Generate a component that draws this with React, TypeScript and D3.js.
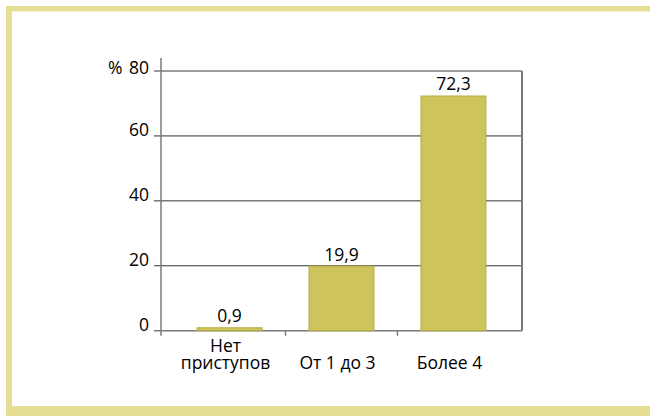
import React from "react";
import * as d3 from "d3";

// Доля пациентов по числу приступов, %
const categories: string[][] = [["Нет", "приступов"], ["От 1 до 3"], ["Более 4"]];
const values: number[] = [0.9, 19.9, 72.3];
const valueLabels: string[] = ["0,9", "19,9", "72,3"];
const yTicks: number[] = [0, 20, 40, 60, 80];

const W = 650;
const H = 416;
const FONT = "'Open Sans', 'Noto Sans', sans-serif";
const FS = 17.5;

export default function App() {
  const left = 161;
  const right = 522;
  const bottom = 330.7;
  const top = 71;

  const keys = categories.map((c) => c.join(" "));
  const x = d3
    .scaleBand<string>()
    .domain(keys)
    .range([left, right])
    .paddingInner(0.42)
    .paddingOuter(0.3225);
  const y = d3.scaleLinear().domain([0, 80]).range([bottom, top]);

  const bw = x.bandwidth();
  const step = x.step();
  const dividers = keys.slice(0, -1).map((k) => (x(k) as number) + bw + (step - bw) / 2);

  const frame = "#e4df95";
  const barFill = "#cdc55c";
  const barStroke = "#b5ac3e";

  return (
    <svg
      width={W}
      height={H}
      style={{ position: "absolute", left: 0, top: 0, background: "#fff" }}
      fontFamily={FONT}
    >
      {/* рамка */}
      <rect x={6} y={6} width={W - 6} height={5.5} fill={frame} />
      <rect x={6} y={6} width={6} height={H - 6} fill={frame} />
      <rect x={6} y={406} width={W - 6} height={10} fill={frame} />

      {/* сетка */}
      {yTicks
        .filter((t) => t > 0 && t < 80)
        .map((t) => (
          <line key={t} x1={left - 7} x2={right} y1={y(t)} y2={y(t)} stroke="#333" strokeWidth={1} />
        ))}
      <line x1={left - 7} x2={right} y1={y(80)} y2={y(80)} stroke="#7a7a7a" strokeWidth={1.5} />
      <line x1={left - 7} x2={right} y1={y(0)} y2={y(0)} stroke="#7a7a7a" strokeWidth={1.5} />
      <line x1={right} x2={right} y1={y(80)} y2={y(0)} stroke="#7a7a7a" strokeWidth={2} />
      <line x1={left} x2={left} y1={58} y2={y(0) + 5} stroke="#7a7a7a" strokeWidth={1.5} />
      {dividers.map((d, i) => (
        <line key={i} x1={d} x2={d} y1={y(0)} y2={y(0) + 5} stroke="#7a7a7a" strokeWidth={1.5} />
      ))}

      {/* подписи оси Y */}
      {yTicks.map((t) => (
        <text
          key={t}
          x={149}
          y={y(t) + (t === 80 ? 3 : 0)}
          textAnchor="end"
          fontSize={FS}
          fill="#000"
        >
          {t}
        </text>
      ))}
      <text x={108} y={y(80) + 3} fontSize={FS} fill="#000">
        %
      </text>

      {/* столбцы */}
      {keys.map((k, i) => (
        <g key={k}>
          <rect
            x={x(k)}
            y={y(values[i])}
            width={bw}
            height={y(0) - y(values[i])}
            fill={barFill}
            stroke={barStroke}
            strokeWidth={1}
          />
          <text
            x={(x(k) as number) + bw / 2}
            y={y(values[i]) - 5.5}
            textAnchor="middle"
            fontSize={FS}
            fill="#000"
          >
            {valueLabels[i]}
          </text>
        </g>
      ))}

      {/* подписи категорий */}
      {categories.map((lines, i) => {
        const cx = (x(keys[i]) as number) + bw / 2 - 4;
        return (
          <text key={i} textAnchor="middle" fontSize={FS} fill="#000">
            {lines.map((ln, j) => (
              <tspan key={j} x={cx} y={369 - (lines.length - 1 - j) * 17}>
                {ln}
              </tspan>
            ))}
          </text>
        );
      })}
    </svg>
  );
}
